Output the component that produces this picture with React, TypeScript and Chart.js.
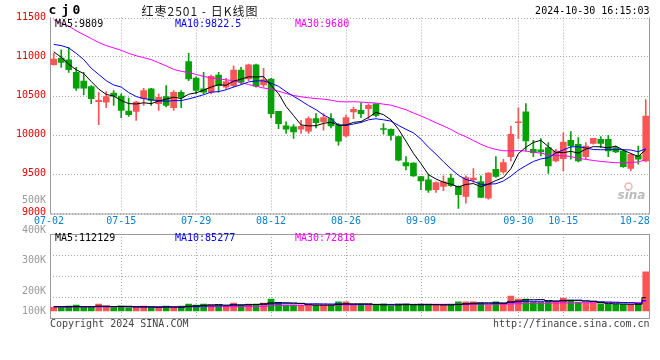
import React, { useEffect, useRef } from 'react';
import { Chart, registerables } from 'chart.js';
Chart.register(...registerables);

// ---------- data ----------
const dates = [
  '07-02','07-03','07-04','07-05','07-08','07-09','07-10','07-11','07-12','07-15',
  '07-16','07-17','07-18','07-19','07-22','07-23','07-24','07-25','07-26','07-29',
  '07-30','07-31','08-01','08-02','08-05','08-06','08-07','08-08','08-09','08-12',
  '08-13','08-14','08-15','08-16','08-19','08-20','08-21','08-22','08-23','08-26',
  '08-27','08-28','08-29','08-30','09-02','09-03','09-04','09-05','09-06','09-09',
  '09-10','09-11','09-12','09-13','09-18','09-19','09-20','09-23','09-24','09-25',
  '09-26','09-27','09-30','10-08','10-09','10-10','10-11','10-14','10-15','10-16',
  '10-17','10-18','10-21','10-22','10-23','10-24','10-25','10-28','10-29','10-30',
];
const opens = [
  10894,10979,10958,10797,10686,10614,10420,10415,10530,10492,
  10301,10297,10458,10585,10394,10487,10343,10542,10936,10724,
  10585,10542,10763,10606,10627,10826,10712,10894,10636,10712,
  10297,10110,10097,10068,10042,10203,10161,10203,10119,9983,
  10288,10309,10331,10394,10072,10066,9972,9640,9632,9462,
  9419,9292,9334,9440,9334,9206,9419,9398,9185,9555,
  9521,9717,10151,10292,9811,9802,9832,9662,9691,9926,
  9875,9717,9887,9938,9938,9832,9789,9564,9734,9662,
];
const highs = [
  11040,11085,11114,10860,10797,10627,10542,10551,10564,10521,
  10466,10424,10593,10593,10521,10627,10564,10564,11042,10740,
  10797,10763,10797,10720,10881,10860,10903,10903,10848,10720,
  10297,10161,10127,10182,10225,10267,10267,10267,10140,10246,
  10352,10407,10394,10394,10140,10074,9981,9717,9640,9462,
  9491,9394,9470,9491,9343,9470,9564,9470,9513,9717,
  9683,10108,10343,10398,9926,9947,9896,9811,10023,10036,
  9960,9896,9951,9972,9989,9853,9811,9760,9853,10449,
];
const lows = [
  10890,10860,10797,10564,10509,10394,10127,10343,10373,10216,
  10233,10182,10373,10373,10309,10352,10309,10343,10690,10521,
  10521,10521,10542,10585,10606,10648,10690,10606,10606,10212,
  10076,10013,9949,10013,10013,10085,10055,10085,9864,9970,
  10203,10216,10203,10225,10005,9926,9662,9547,9462,9292,
  9258,9258,9279,9334,9053,9121,9385,9194,9172,9449,
  9504,9662,9947,9789,9717,9726,9500,9649,9534,9683,
  9649,9683,9875,9832,9717,9768,9577,9534,9619,9649,
];
const closes = [
  10966,10924,10830,10593,10593,10458,10437,10487,10492,10309,
  10254,10415,10564,10437,10475,10373,10542,10479,10712,10564,
  10542,10746,10627,10678,10826,10670,10894,10619,10703,10267,
  10140,10068,10034,10106,10203,10153,10216,10110,9915,10216,
  10322,10267,10373,10246,10064,9989,9670,9598,9470,9406,
  9287,9385,9394,9343,9228,9449,9440,9194,9504,9462,
  9640,10002,10164,9917,9768,9777,9598,9789,9904,9853,
  9662,9853,9951,9887,9789,9777,9589,9747,9683,10236,
];
const volumes = [
  30000,28000,41000,50000,28000,28000,59000,41000,28000,41000,
  28000,28000,41000,28000,28000,41000,28000,41000,59000,50000,
  59000,50000,50000,39000,67000,50000,59000,59000,67000,101000,
  70000,50000,50000,50000,50000,50000,50000,50000,76000,76000,
  50000,50000,50000,50000,59000,39000,59000,59000,50000,59000,
  50000,50000,50000,50000,76000,76000,76000,67000,50000,76000,
  67000,126000,101000,101000,78000,73000,84000,78000,109000,92000,
  72000,66000,66000,60000,55000,57000,57000,57000,57000,330000,
];
// moving-average values for days before enough history exists
const ma5Head = [11060, 10990, 10900, 10830];
const ma10Head = [11155, 11140, 11110, 11040, 10960, 10850, 10770, 10690, 10635];
const ma30Head = [
  11470,11430,11390,11330,11280,11230,11180,11140,11110,11080,
  11040,11010,10985,10960,10920,10880,10835,10810,10795,10770,
  10745,10725,10715,10700,10690,10665,10640,10620,10595,
];
const volMa5Head = [36000, 35000, 36000, 37000];
const volMa10Head = [37000, 37000, 36000, 36000, 36000, 36000, 37000, 37000, 37000];
const volMa30Head = [
  34000,34000,34000,34000,34000,34000,35000,35000,35000,35000,
  35000,35000,35000,35000,35000,36000,36000,36000,36000,36000,
  37000,37000,37000,37000,37000,38000,38000,38000,38000,
];

const priceTicks = [9000, 9500, 10000, 10500, 11000, 11500];
const xTickLabels = ['07-02', '07-15', '07-29', '08-12', '08-26', '09-09', '09-30', '10-15', '10-28'];
const volTickLabels = ['500K', '400K', '300K', '200K', '100K'];
const titleCode = ['c', 'j', '0'];
const titleText = '红枣2501 - 日K线图';
const timestamp = '2024-10-30 16:15:03';
const priceMaLabels = ['MA5:9809', 'MA10:9822.5', 'MA30:9680'];
const volMaLabels = ['MA5:112129', 'MA10:85277', 'MA30:72818'];
const copyrightText = 'Copyright 2024 SINA.COM';
const urlText = 'http://finance.sina.com.cn';

// ---------- styles ----------
const RED = '#f85656';
const GREEN = '#07a007';
const MA_COLORS = ['#000000', '#0000ff', '#ff00ff'];
const MONO = '"DejaVu Sans Mono", "Liberation Mono", monospace';
const GRID = '#aaaaaa';
const BORDER = '#999999';
const VOL_MIN = -58800;
const VOL_MAX = 646800;

function movingAverage(values: number[], n: number, head: number[]) {
  return values.map((_, i) => {
    if (i < n - 1) return head[i];
    let s = 0;
    for (let k = i - n + 1; k <= i; k++) s += values[k];
    return s / n;
  });
}

const candleColors = closes.map((c, i) => (c >= opens[i] ? RED : GREEN));

function drawPanelGrid(chart: any, horizontal: number[], bottomStyle: 'dotted' | 'solid', topSolid: boolean) {
  const { ctx, chartArea: a } = chart;
  const x = chart.scales.x;
  ctx.save();
  ctx.lineWidth = 1;
  ctx.strokeStyle = GRID;
  ctx.setLineDash([1, 2]);
  for (const py0 of horizontal) {
    const py = Math.round(py0) + 0.5;
    ctx.beginPath(); ctx.moveTo(a.left, py); ctx.lineTo(a.right, py); ctx.stroke();
  }
  for (const lab of xTickLabels.slice(1, -1)) {
    const px = Math.round(x.getPixelForValue(dates.indexOf(lab))) + 0.5;
    ctx.beginPath(); ctx.moveTo(px, a.top); ctx.lineTo(px, a.bottom); ctx.stroke();
  }
  ctx.setLineDash([]);
  ctx.strokeStyle = BORDER;
  const l = Math.round(a.left) + 0.5;
  const r = Math.floor(a.right) + 0.5;
  ctx.beginPath(); ctx.moveTo(l, a.top); ctx.lineTo(l, a.bottom + 1); ctx.stroke();
  ctx.beginPath(); ctx.moveTo(r, a.top); ctx.lineTo(r, a.bottom + 1); ctx.stroke();
  if (topSolid) {
    const t = Math.round(a.top) + 0.5;
    ctx.beginPath(); ctx.moveTo(l, t); ctx.lineTo(r, t); ctx.stroke();
  }
  if (bottomStyle === 'dotted') {
    ctx.lineWidth = 2;
    ctx.strokeStyle = GRID;
    ctx.setLineDash([2, 1]);
    const b = Math.round(a.bottom) + 1;
    ctx.beginPath(); ctx.moveTo(l, b); ctx.lineTo(r + 1, b); ctx.stroke();
  } else {
    const b = Math.round(a.bottom) + 0.5;
    ctx.beginPath(); ctx.moveTo(l, b); ctx.lineTo(r, b); ctx.stroke();
  }
  ctx.restore();
}

const mainDecor = {
  id: 'mainDecor',
  beforeDatasetsDraw(chart: any) {
    const y = chart.scales.y;
    drawPanelGrid(chart, priceTicks.slice(1).map((v) => y.getPixelForValue(v)), 'dotted', false);
  },
  afterDraw(chart: any) {
    const { ctx, chartArea: a } = chart;
    const x = chart.scales.x;
    const y = chart.scales.y;
    ctx.save();
    ctx.textBaseline = 'middle';
    // price tick labels
    ctx.font = `10px ${MONO}`;
    ctx.textAlign = 'right';
    ctx.fillStyle = '#e80000';
    for (const v of priceTicks) ctx.fillText(String(v), a.left - 4, y.getPixelForValue(v) - 0.5);
    ctx.fillStyle = '#9a9a9a';
    ctx.fillText(volTickLabels[0], a.left - 4, a.bottom - 12);
    // x labels
    ctx.textAlign = 'center';
    ctx.fillStyle = '#0a80d2';
    xTickLabels.forEach((lab, k) => {
      const i = dates.indexOf(lab);
      let px = x.getPixelForValue(i);
      if (k === 0) px = a.left - 1;
      if (k === xTickLabels.length - 1) px += 4;
      ctx.fillText(lab, px, a.bottom + 9);
    });
    // MA labels
    ctx.textAlign = 'left';
    priceMaLabels.forEach((t, k) => {
      ctx.fillStyle = MA_COLORS[k];
      ctx.fillText(t, a.left + 5 + k * 120, a.top + 6.5);
    });
    // timestamp
    ctx.textAlign = 'right';
    ctx.fillStyle = '#000';
    ctx.fillText(timestamp, a.right, 11.5);
    // title
    ctx.textAlign = 'center';
    ctx.font = `bold 13px ${MONO}`;
    const codeX = [52.5, 65.5, 76.5];
    titleCode.forEach((c, k) => ctx.fillText(c, codeX[k], 11));
    ctx.font = '12px "Noto Sans CJK SC", "Noto Sans", sans-serif';
    ctx.fillStyle = '#1a1a1a';
    (ctx as any).letterSpacing = '1px';
    ctx.fillText(titleText, 200, 11);
    (ctx as any).letterSpacing = '0px';
    // watermark
    ctx.strokeStyle = '#f2b4b4';
    ctx.lineWidth = 1.5;
    ctx.beginPath(); ctx.arc(a.right - 21, a.bottom - 26, 3.5, 0, Math.PI * 2); ctx.stroke();
    ctx.font = `italic bold 12px "DejaVu Sans", sans-serif`;
    ctx.fillStyle = '#bcbcbc';
    ctx.textAlign = 'left';
    ctx.fillText('sina', a.right - 32, a.bottom - 17);
    ctx.restore();
  },
};

const volDecor = {
  id: 'volDecor',
  beforeDatasetsDraw(chart: any) {
    const a = chart.chartArea;
    const h = a.bottom - a.top;
    drawPanelGrid(chart, [1, 2, 3].map((k) => a.top + (h * k) / 4), 'solid', true);
  },
  afterDraw(chart: any) {
    const { ctx, chartArea: a } = chart;
    const y = chart.scales.y;
    ctx.save();
    ctx.textBaseline = 'middle';
    ctx.font = `10px ${MONO}`;
    ctx.textAlign = 'right';
    ctx.fillStyle = '#9a9a9a';
    const base = y.getPixelForValue(0);
    const labY = [a.top - 4, a.top + 26, a.top + 57, base];
    volTickLabels.slice(1).forEach((t, k) => ctx.fillText(t, a.left - 4, labY[k]));
    ctx.textAlign = 'left';
    volMaLabels.forEach((t, k) => {
      ctx.fillStyle = MA_COLORS[k];
      ctx.fillText(t, a.left + 5 + k * 120, a.top + 4.5);
    });
    ctx.fillStyle = '#444';
    ctx.fillText(copyrightText, a.left, a.bottom + 6);
    ctx.textAlign = 'right';
    ctx.fillText(urlText, a.right, a.bottom + 6);
    ctx.restore();
  },
};

function lineDataset(data: number[], color: string, stepped: any = false) {
  return {
    type: 'line' as const,
    data,
    borderColor: color,
    borderWidth: 1,
    pointRadius: 0,
    fill: false,
    tension: 0,
    stepped,
    order: 0,
  };
}

const baseOptions = (padding: any, yMin: number, yMax: number) => ({
  responsive: false,
  animation: false as const,
  events: [] as any[],
  layout: { padding },
  plugins: { legend: { display: false }, tooltip: { enabled: false } },
  scales: {
    x: { type: 'category' as const, display: false, offset: true },
    y: { display: false, min: yMin, max: yMax },
  },
});

export default function App() {
  const mainRef = useRef<HTMLCanvasElement>(null);
  const volRef = useRef<HTMLCanvasElement>(null);

  useEffect(() => {
    const ma5 = movingAverage(closes, 5, ma5Head);
    const ma10 = movingAverage(closes, 10, ma10Head);
    const ma30 = movingAverage(closes, 30, ma30Head);
    const vma5 = movingAverage(volumes, 5, volMa5Head);
    const vma10 = movingAverage(volumes, 10, volMa10Head);
    const vma30 = movingAverage(volumes, 30, volMa30Head);

    const main = new Chart(mainRef.current as HTMLCanvasElement, {
      type: 'bar',
      data: {
        labels: dates,
        datasets: [
          lineDataset(ma5, MA_COLORS[0]),
          lineDataset(ma10, MA_COLORS[1]),
          lineDataset(ma30, MA_COLORS[2]),
          {
            type: 'bar',
            data: opens.map((o, i) => [o, closes[i]]) as any,
            backgroundColor: candleColors,
            borderWidth: 0,
            barThickness: 6,
            grouped: false,
            minBarLength: 1,
            order: 1,
          },
          {
            type: 'bar',
            data: lows.map((l, i) => [l, highs[i]]) as any,
            backgroundColor: candleColors,
            borderWidth: 0,
            barThickness: 1,
            grouped: false,
            order: 2,
          },
        ] as any,
      },
      options: baseOptions({ left: 50, top: 17.5, right: 10.5, bottom: 147.5 }, 9000, 11500) as any,
      plugins: [mainDecor],
    });

    const vol = new Chart(volRef.current as HTMLCanvasElement, {
      type: 'bar',
      data: {
        labels: dates,
        datasets: [
          lineDataset(vma5, MA_COLORS[0], 'middle'),
          lineDataset(vma10, MA_COLORS[1], 'middle'),
          lineDataset(vma30, MA_COLORS[2], 'middle'),
          {
            type: 'bar',
            data: volumes,
            backgroundColor: candleColors,
            borderWidth: 0,
            barThickness: 6,
            grouped: false,
            order: 1,
          },
        ] as any,
      },
      options: baseOptions({ left: 50, top: 234, right: 10.5, bottom: 42 }, VOL_MIN, VOL_MAX) as any,
      plugins: [volDecor],
    });

    return () => {
      main.destroy();
      vol.destroy();
    };
  }, []);

  return (
    <div style={{ position: 'absolute', left: 0, top: 0, width: 660, height: 360, background: '#fff' }}>
      <canvas ref={mainRef} width={660} height={360} style={{ position: 'absolute', left: 0, top: 0 }} />
      <canvas ref={volRef} width={660} height={360} style={{ position: 'absolute', left: 0, top: 0 }} />
    </div>
  );
}
